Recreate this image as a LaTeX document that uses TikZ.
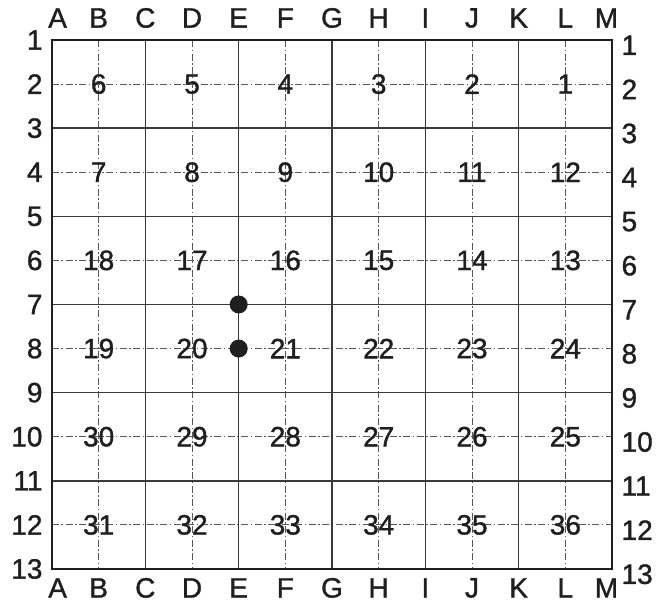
\documentclass[tikz,border=0pt]{standalone}
\usepackage{fontspec}
\setmainfont{Liberation Sans}
\newfontfamily\boardfont[FakeBold=1.2]{Liberation Sans}
\definecolor{ink}{HTML}{1F1F1F}
\definecolor{gridgray}{HTML}{3A3A3A}

\begin{document}
\begin{tikzpicture}[x=46.67pt, y=-44.08pt,
    every node/.style={font=\boardfont\fontsize{28}{30}\selectfont, text=ink},
    solidline/.style={line width=1.4pt, draw=gridgray},
    dashline/.style={line width=0.9pt, draw=gridgray!85, dash pattern=on 7pt off 2.5pt on 1.5pt off 2.5pt},
    stone/.style={circle, fill=ink, inner sep=0pt, minimum size=18pt}]
  \useasboundingbox (-52pt,40pt) rectangle (613pt,-563pt);

  % board lines
  \foreach \i in {1,3,...,11} {
    \draw[dashline] (\i,0) -- (\i,12);
    \draw[dashline] (0,\i) -- (12,\i);
  }
  \foreach \i in {2,4,...,10} {
    \draw[solidline] (\i,0) -- (\i,12);
    \draw[solidline] (0,\i) -- (12,\i);
  }
  \draw[line width=1.8pt, draw=ink] (0,0) rectangle (12,12);

  % letters and row numbers round the edge
  \foreach \l [count=\i from 0] in {A,B,C,D,E,F,G,H,I,J,K,L,M} {
    \pgfmathsetmacro\xx{\i==0 ? 0.12 : (\i==12 ? 11.88 : \i)}
    \node (top\l) at (\xx,-0.5) {\l};
    \node (bot\l) at (\xx,12.43) {\l};
  }
  \foreach \r in {1,...,13} {
    \node[anchor=east, inner sep=0pt] (left\r) at (-0.2,\r-1) {\r};
    \node[anchor=west, inner sep=0pt] (right\r) at (12.2,\r-0.88) {\r};
  }

  % squares 1 to 36
  \foreach \k in {0,...,5} {
    \foreach \j in {0,...,5} {
      \pgfmathtruncatemacro\num{isodd(\k) ? 6*\k+1+\j : 6*\k+6-\j}
      \node (n\num) at (2*\j+1,2*\k+1) {\num};
    }
  }

  % the two stones
  \node[stone] (stoneE7) at (4,6) {};
  \node[stone] (stoneE8) at (4,7) {};
\end{tikzpicture}
\end{document}
